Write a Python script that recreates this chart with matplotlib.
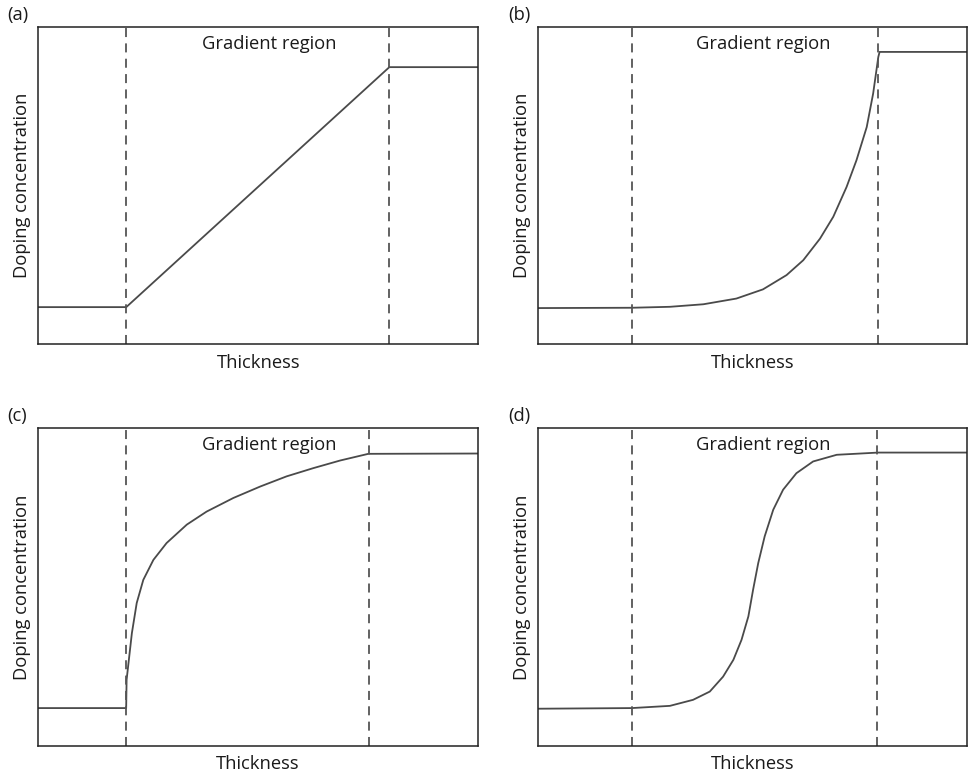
import matplotlib
matplotlib.use("Agg")
import matplotlib.pyplot as plt

plt.rcParams["font.family"] = ["Open Sans", "DejaVu Sans"]

# Profiles; x and y are in percent of the plot box.
# (a) linear gradient
a_x = [0, 20.0, 79.8, 100]
a_y = [11.7, 11.7, 87.4, 87.4]
a_bounds = [20.0, 79.8]

# (b) exponential-like rise
b_x = [0, 21.8, 30.7, 38.5, 46.2, 52.4, 57.9, 61.8, 65.7, 68.8, 71.9, 74.2,
       76.6, 78.1, 79.3, 79.6, 100]
b_y = [11.4, 11.5, 11.8, 12.6, 14.4, 17.3, 21.8, 26.5, 33.3, 40.2, 49.6, 58.0,
       68.5, 79.1, 90.6, 92.2, 92.2]
b_bounds = [21.8, 79.3]

# (c) logarithmic-like rise
c_x = [0, 20.0, 20.1, 21.3, 22.4, 23.9, 26.2, 29.2, 33.8, 38.3, 44.4, 50.5,
       56.5, 62.6, 68.7, 75.1, 100]
c_y = [11.8, 11.8, 20.7, 35.4, 44.9, 52.2, 58.5, 63.8, 69.6, 73.7, 78.0, 81.6,
       84.8, 87.4, 89.8, 91.9, 92.0]
c_bounds = [20.0, 75.3]

# (d) s-shaped rise
d_x = [0, 21.8, 30.7, 36.1, 40.0, 43.1, 45.5, 47.4, 49.0, 50.1, 51.3, 52.8,
       54.8, 57.1, 60.2, 64.1, 69.6, 79.3, 100]
d_y = [11.6, 11.8, 12.5, 14.4, 17.0, 21.7, 27.0, 33.3, 40.7, 49.1, 57.5, 65.9,
       74.3, 80.6, 85.8, 89.5, 91.6, 92.3, 92.3]
d_bounds = [21.8, 79.1]

panels = [
    ("(a)", a_x, a_y, a_bounds, [0.0395, 0.557, 0.454, 0.408]),
    ("(b)", b_x, b_y, b_bounds, [0.5555, 0.557, 0.4425, 0.408]),
    ("(c)", c_x, c_y, c_bounds, [0.0395, 0.0405, 0.4535, 0.4085]),
    ("(d)", d_x, d_y, d_bounds, [0.5555, 0.0405, 0.4425, 0.4085]),
]

fig = plt.figure(figsize=(9.69, 7.77), dpi=100)
fs = 13.2

for tag, xs, ys, bounds, rect in panels:
    ax = fig.add_axes(rect)
    ax.plot(xs, ys, color="#4a4a4a", lw=1.3, solid_joinstyle="round")
    for bx in bounds:
        ax.axvline(bx, color="#555555", lw=1.3, ls=(0, (5, 3.5)))
    ax.set_xlim(0, 100)
    ax.set_ylim(0, 100)
    ax.set_xticks([])
    ax.set_yticks([])
    for s in ax.spines.values():
        s.set_color("#222222")
        s.set_linewidth(1.1)
    ax.text(0.525, 0.948, "Gradient region", transform=ax.transAxes,
            ha="center", va="center", fontsize=fs, color="#1a1a1a")
    ax.set_xlabel("Thickness", fontsize=fs, color="#1a1a1a", labelpad=7)
    ax.set_ylabel("Doping concentration", fontsize=fs, color="#1a1a1a",
                  labelpad=5)
    ax.text(-0.07, 1.038, tag, transform=ax.transAxes, ha="left", va="center",
            fontsize=fs, color="#1a1a1a")

fig.savefig("out.png", dpi=100)
